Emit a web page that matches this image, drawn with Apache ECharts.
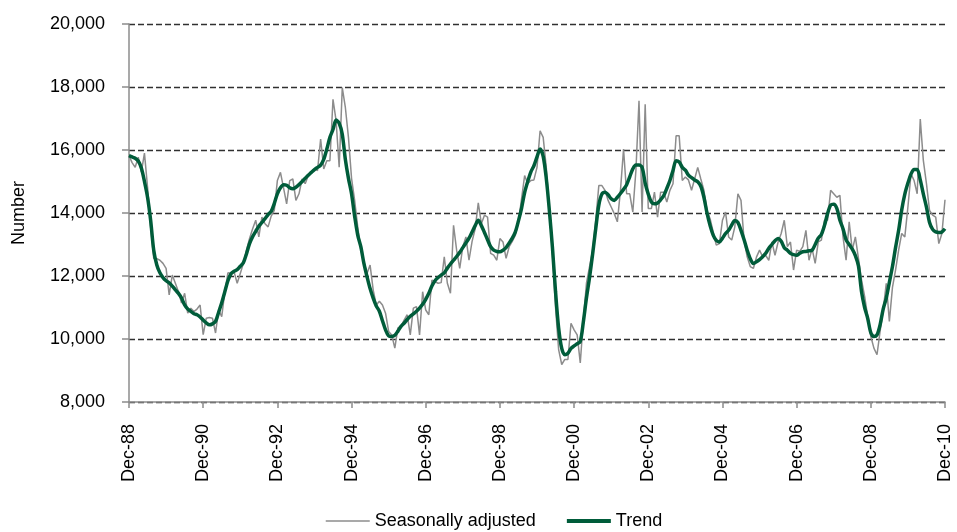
<!DOCTYPE html>
<html>
<head>
<meta charset="utf-8">
<script src="https://cdn.jsdelivr.net/npm/echarts@6/dist/echarts.min.js"></script>
<style>
  html, body { margin: 0; padding: 0; background: #fff; }
  #chart { width: 957px; height: 532px; }
</style>
</head>
<body>
<div id="chart"></div>
<script>
// monthly series, Dec-88 .. Dec-10 (one row = 12 months, starting at Dec)
const monthNames = ['Jan', 'Feb', 'Mar', 'Apr', 'May', 'Jun', 'Jul', 'Aug', 'Sep', 'Oct', 'Nov', 'Dec']

// seasonally adjusted
const seasonallyAdjusted = [
  15820, 15600, 15450, 15770, 15300, 15900, 14820, 13560, 12560, 12550, 12500, 12400,
  12240, 11400, 12030, 11770, 11500, 11140, 11450, 10820, 10980, 10870, 10950, 11080,
  10140, 10660, 10680, 10660, 10190, 10920, 10710, 11500, 12100, 12080, 12130, 11770,
  12080, 12400, 12820, 13190, 13500, 13770, 13240, 13870, 13660, 13560, 13900, 14080,
  15030, 15290, 14800, 14290, 15030, 15080, 14400, 14610, 15080, 14930, 15190, 15300,
  15400, 15350, 16350, 15400, 15660, 15660, 17610, 16930, 15450, 17980, 17350, 16400,
  15100, 14400, 13560, 12820, 12450, 12080, 12350, 11560, 11080, 11200, 11080, 10820,
  10240, 10130, 9710, 10350, 10400, 10600, 10770, 10130, 10980, 11030, 10130, 11500,
  10920, 10770, 11870, 11820, 11770, 11790, 12610, 11770, 11450, 13610, 12820, 12240,
  12930, 13240, 12500, 13100, 13500, 14320, 13660, 13930, 13870, 12720, 12660, 12500,
  13190, 13080, 12560, 12930, 13100, 13300, 13720, 14450, 15190, 14930, 15030, 15050,
  15450, 16610, 16400, 15450, 14080, 12720, 11000, 9660, 9190, 9350, 9350, 10500,
  10290, 10130, 9240, 10610, 11770, 12300, 12820, 13770, 14870, 14870, 14720, 14400,
  14190, 13980, 13720, 14720, 16030, 14610, 14610, 14030, 15350, 17560, 14030, 17450,
  14140, 14140, 14660, 13870, 14660, 14660, 14350, 14720, 14930, 16450, 16450, 15030,
  15140, 15050, 14720, 15080, 15450, 15080, 14720, 14080, 13820, 13400, 12980, 13030,
  13770, 14030, 13240, 13140, 13560, 14610, 14400, 13140, 12610, 12300, 12240, 12600,
  12820, 12610, 12650, 12500, 13080, 12660, 13080, 13350, 13770, 12930, 13080, 12190,
  12820, 12780, 12930, 13450, 12500, 12870, 12400, 13080, 13140, 13770, 13770, 14720,
  14610, 14500, 14560, 13240, 12500, 13720, 12820, 13240, 12560, 11870, 11350, 10710,
  10080, 9710, 9500, 10240, 10920, 11770, 10560, 11640, 12190, 12820, 13350, 13240,
  14190, 15240, 15030, 14610, 16980, 15660, 14930, 14080, 13930, 13870, 13030, 13350,
  14420
]

// trend
const trend = [
  15820, 15780, 15740, 15650, 15430, 15000, 14500, 13770, 12820, 12350, 12100, 11950,
  11850, 11780, 11680, 11560, 11450, 11300, 11080, 10950, 10880, 10800, 10770, 10700,
  10600, 10510, 10450, 10480, 10560, 10850, 11150, 11500, 11850, 12070, 12150, 12200,
  12310, 12420, 12700, 13030, 13250, 13420, 13580, 13700, 13820, 13950, 14050, 14300,
  14610, 14800, 14900, 14880, 14800, 14770, 14820, 14900, 15000, 15100, 15200, 15290,
  15380, 15450, 15520, 15700, 16030, 16400, 16650, 16950, 16850, 16500, 15700, 15100,
  14610, 13900, 13300, 12930, 12400, 11980, 11600, 11300, 11050, 10880, 10580, 10290,
  10100, 10080, 10120, 10250, 10400, 10500, 10620, 10720, 10800, 10880, 10980, 11100,
  11260, 11450, 11680, 11850, 11950, 12030, 12100, 12250, 12380, 12500, 12620, 12750,
  12900, 13050, 13200, 13400, 13600, 13770, 13600, 13380, 13150, 12930, 12820, 12780,
  12770, 12820, 12900, 13050, 13200, 13400, 13750, 14150, 14650, 15000, 15300, 15500,
  15780, 16030, 15800, 15100, 14080, 12900, 11500, 10350, 9700, 9500, 9550, 9700,
  9780, 9850, 9920, 10550, 11300, 11950, 12700, 13500, 14250, 14600, 14660, 14580,
  14450, 14400, 14500, 14620, 14750, 14900, 15150, 15400, 15520, 15520, 15450, 14950,
  14600, 14350, 14290, 14320, 14420, 14550, 14780, 15030, 15350, 15660, 15620, 15450,
  15360, 15200, 15120, 15050, 14990, 14850, 14500, 14000, 13600, 13300, 13130, 13080,
  13200, 13350, 13450, 13620, 13760, 13700, 13450, 13150, 12820, 12550, 12400, 12450,
  12520, 12610, 12720, 12880, 13000, 13120, 13190, 13100, 12900, 12820, 12720, 12680,
  12660, 12720, 12770, 12780, 12800, 12820, 13000, 13200, 13320, 13600, 13980, 14250,
  14280, 14150, 13770, 13500, 13150, 13000, 12850, 12650, 12320, 11500, 11000, 10650,
  10200, 10080, 10130, 10450, 10950, 11300, 11800, 12300, 12900, 13450, 14100, 14600,
  14950, 15240, 15380, 15380, 15050, 14600, 14190, 13700, 13480, 13400, 13380, 13400,
  13500
]

// y axis ticks
const yMin = 8000
const yMax = 20000
const yStep = 2000

// category labels "Dec-88", "Jan-89", ...
const categories = seasonallyAdjusted.map((v, i) => {
  const m = (11 + i) % 12
  const y = (1988 + Math.floor((11 + i) / 12)) % 100
  return monthNames[m] + '-' + String(y).padStart(2, '0')
})

const font = 'Liberation Sans, Arial, sans-serif'
const axisGray = '#8c8c8c'
const saColor = '#8c8c8c'
const trendColor = '#005c3a'

const chart = echarts.init(document.getElementById('chart'))

chart.setOption({
  animation: false,
  grid: { left: 129, right: 12, top: 24, bottom: 130 },
  legend: {
    left: 320,
    top: 507,
    itemWidth: 44,
    itemHeight: 14,
    itemGap: 29,
    // hide the little marker circle, keep only the line
    itemStyle: { opacity: 0 },
    textStyle: { fontFamily: font, fontSize: 18, color: '#000' },
    data: [
      { name: 'Seasonally adjusted', lineStyle: { color: saColor, width: 1.5 } },
      { name: 'Trend', lineStyle: { color: trendColor, width: 4 } }
    ]
  },
  xAxis: {
    type: 'category',
    data: categories,
    boundaryGap: false,
    axisLine: { lineStyle: { color: axisGray, width: 1.5 } },
    axisTick: {
      alignWithLabel: true,
      length: 6,
      interval: (i) => i % 24 === 0,
      lineStyle: { color: axisGray, width: 1.5 }
    },
    axisLabel: {
      interval: (i) => i % 24 === 0,
      rotate: 90,
      margin: 22,
      fontFamily: font,
      fontSize: 18,
      color: '#000'
    },
    splitLine: { show: false }
  },
  yAxis: {
    type: 'value',
    min: yMin,
    max: yMax,
    interval: yStep,
    name: 'Number',
    nameLocation: 'middle',
    nameGap: 101,
    nameTextStyle: { fontFamily: font, fontSize: 18, color: '#000' },
    axisLine: { show: true, lineStyle: { color: axisGray, width: 1.5 } },
    axisTick: { show: true, length: 7, lineStyle: { color: axisGray, width: 1.5 } },
    axisLabel: {
      margin: 24,
      fontFamily: font,
      fontSize: 18,
      color: '#000',
      formatter: (v) => v.toLocaleString('en-US')
    },
    splitLine: {
      lineStyle: { color: '#303030', width: 1.3, type: [6, 3] }
    }
  },
  series: [
    {
      name: 'Seasonally adjusted',
      type: 'line',
      data: seasonallyAdjusted,
      symbol: 'none',
      lineStyle: { color: saColor, width: 1.5 },
      itemStyle: { color: saColor },
      z: 2
    },
    {
      name: 'Trend',
      type: 'line',
      data: trend,
      symbol: 'none',
      smooth: 0.3,
      lineStyle: { color: trendColor, width: 3.5 },
      itemStyle: { color: trendColor },
      z: 3
    }
  ]
})
</script>
</body>
</html>
